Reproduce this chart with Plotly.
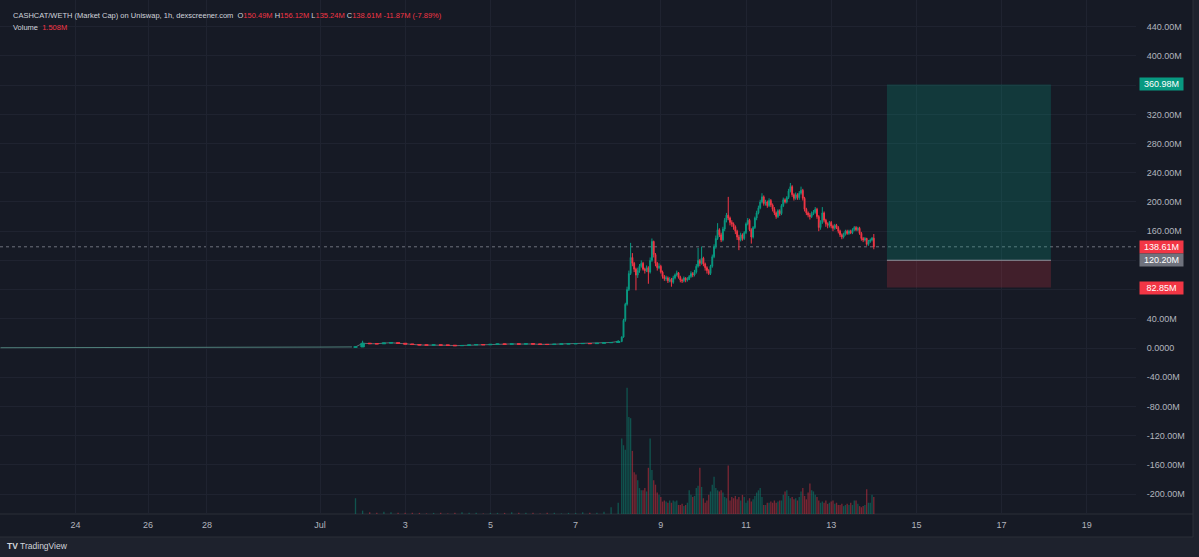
import plotly.graph_objects as go

# ---------------- data ----------------
# time axis: hours since Jul 1 00:00 (TradingView bar-index axis, compressed before Jul 1)
tick_hours = [-137.7, -96.9, -63.7, 0, 48, 96, 144, 192, 240, 288, 336, 384, 432]
tick_text = ["24", "26", "28", "Jul", "3", "5", "7", "9", "11", "13", "15", "17", "19"]

price_ticks = [-200, -160, -120, -80, -40, 0, 40, 80, 120, 160, 200, 240, 280, 320, 360, 400, 440]
price_tick_text = ["-200.00M", "-160.00M", "-120.00M", "-80.00M", "-40.00M", "0.0000", "40.00M",
                   "", "", "160.00M", "200.00M", "240.00M", "280.00M", "320.00M", "", "400.00M", "440.00M"]

# sparse early trading (market cap, M)
early_hours = [-180, -150, -120, -90, -60, -30, 0, 18]
early_mcap = [0.4, 0.4, 0.5, 0.6, 0.7, 0.9, 1.3, 1.5]

# quiet period Jul 1 20:00 -> Jul 8 00:00, 4h steps (M)
flat_start_hour = 20
flat_step = 4
flat_first_open = 1.2
flat_close = [1.5, 6.5, 6.0, 5.8, 6.8, 7.2, 6.5, 5.5, 4.8, 4.2, 4.0, 4.2, 4.0, 3.8, 3.2, 3.5, 4.2, 4.8, 4.5,
              5.0, 5.5, 5.2, 5.6, 5.4, 5.8, 5.5, 5.0, 4.8, 5.2, 5.6, 5.8, 6.0, 6.2, 6.0, 6.5, 7.3, 7.6, 9.0]
flat_high = [2.0, 10.0, 7.0, 6.6, 7.4, 7.9, 7.4, 6.6, 5.7, 5.0, 4.7, 4.8, 4.6, 4.4, 4.0, 4.0, 4.8, 5.3, 5.2,
             5.5, 6.0, 5.9, 6.1, 6.0, 6.3, 6.2, 5.8, 5.3, 5.7, 6.1, 6.3, 6.5, 6.7, 6.6, 7.0, 7.9, 8.2, 11.0]
flat_low = [1.0, 1.4, 5.4, 5.2, 5.5, 6.5, 6.0, 5.0, 4.4, 3.8, 3.6, 3.7, 3.6, 3.4, 2.8, 2.9, 3.3, 4.0, 4.1,
            4.3, 4.8, 4.8, 4.9, 5.0, 5.1, 5.0, 4.6, 4.4, 4.5, 4.9, 5.3, 5.5, 5.7, 5.6, 5.7, 6.2, 7.0, 7.3]
flat_volume = [1.4, 0.3, 0.15, 0.1, 0.2, 0.15, 0.1, 0.1, 0.1, 0.1, 0.05, 0.1, 0.1, 0.05, 0.1, 0.15, 0.1, 0.1, 0.05,
               0.1, 0.1, 0.1, 0.15, 0.1, 0.1, 0.1, 0.05, 0.1, 0.1, 0.05, 0.1, 0.1, 0.15, 0.1, 0.1, 0.2, 0.6, 1.0]

# hourly candles from Jul 8 02:00 (M)
pump_start_hour = 170
pump_close = [15, 38, 60, 80, 102, 124, 116, 108, 100, 106,
              112, 116, 108, 106, 110, 104, 120, 146, 128, 116,
              110, 112, 104, 98, 95, 96, 92, 94, 90, 96,
              100, 103, 97, 93, 92, 96, 93, 94, 98, 102,
              100, 104, 112, 120, 116, 123, 115, 110, 106, 102,
              112, 125, 139, 150, 162, 155, 148, 163, 175, 182,
              178, 172, 170, 166, 160, 152, 148, 155, 150, 158,
              170, 175, 162, 152, 165, 178, 185, 192, 200, 207,
              198, 200, 195, 202, 196, 190, 185, 180, 188, 184,
              195, 203, 200, 206, 215, 221, 210, 205, 210, 206,
              212, 216, 205, 190, 185, 182, 180, 184, 186, 190,
              180, 165, 172, 185, 175, 170, 168, 172, 167, 164,
              168, 165, 160, 155, 152, 156, 160, 157, 160, 158,
              162, 165, 162, 164, 157, 150, 148, 150, 142, 146,
              148, 150.49, 138.61]
pump_high = [16, 40, 62, 84, 106, 144, 130, 118, 110, 110,
             115, 120, 118, 110, 113, 112, 124, 150, 147, 130,
             118, 116, 114, 106, 100, 99, 98, 97, 96, 99,
             102, 106, 104, 99, 95, 98, 97, 97, 100, 105,
             104, 107, 115, 137, 122, 139, 125, 117, 112, 108,
             114, 128, 142, 154, 171, 164, 158, 166, 178, 185,
             207, 180, 175, 172, 168, 162, 155, 158, 157, 160,
             172, 178, 177, 164, 167, 180, 188, 195, 203, 212,
             209, 203, 202, 205, 204, 198, 193, 187, 190, 190,
             197, 206, 205, 208, 218, 226, 223, 212, 213, 212,
             215, 221, 218, 207, 192, 187, 185, 187, 189, 193,
             192, 182, 175, 193, 187, 177, 172, 174, 174, 169,
             170, 170, 167, 162, 157, 158, 162, 162, 162, 162,
             164, 167, 167, 166, 166, 159, 152, 152, 151, 148,
             150, 152, 156.12]
pump_low = [8, 14, 36, 58, 78, 100, 112, 104, 79, 96,
            103, 110, 106, 102, 104, 88, 102, 118, 124, 112,
            106, 108, 102, 95, 92, 92, 89, 90, 84, 88,
            94, 98, 95, 90, 89, 90, 90, 91, 93, 96,
            97, 98, 102, 110, 112, 114, 112, 106, 102, 100,
            100, 110, 123, 136, 148, 152, 145, 146, 160, 172,
            175, 168, 166, 162, 156, 148, 134, 146, 147, 148,
            156, 168, 160, 143, 150, 163, 175, 183, 190, 198,
            195, 195, 192, 193, 193, 187, 182, 177, 178, 181,
            182, 193, 198, 198, 204, 213, 207, 202, 203, 203,
            203, 210, 202, 187, 182, 179, 176, 178, 182, 184,
            177, 160, 162, 170, 172, 166, 164, 165, 164, 160,
            162, 163, 157, 152, 149, 150, 154, 155, 155, 156,
            156, 160, 160, 160, 155, 147, 145, 146, 140, 140,
            144, 146, 135.24]
pump_volume = [6.7, 6.1, 5.7, 11.2, 8.6, 8.5, 5.6, 3.7, 3.5, 3.0,
               2.3, 2.1, 2.1, 2.3, 2.0, 4.1, 6.7, 3.9, 3.0, 2.6,
               1.9, 1.7, 1.5, 1.1, 1.2, 1.1, 1.0, 1.2, 1.0, 1.2,
               1.1, 1.2, 0.8, 0.8, 0.9, 0.7, 0.8, 1.0, 2.1, 1.7,
               1.5, 1.6, 2.3, 2.5, 4.1, 2.4, 1.4, 1.0, 1.2, 1.7,
               2.0, 2.6, 3.3, 2.3, 2.1, 2.0, 2.1, 1.9, 1.5, 1.4,
               4.3, 1.2, 1.5, 1.4, 1.6, 1.3, 1.5, 1.2, 1.7, 1.5,
               1.0, 1.2, 1.4, 1.1, 1.3, 1.6, 1.9, 2.1, 2.3, 1.5,
               0.8, 0.8, 1.0, 1.0, 1.1, 1.0, 1.2, 1.0, 1.1, 1.2,
               1.2, 1.7, 2.0, 2.1, 1.6, 1.4, 1.5, 1.3, 1.4, 1.2,
               1.5, 2.0, 2.3, 1.6, 1.3, 1.9, 2.7, 2.1, 2.0, 1.7,
               1.5, 1.2, 1.0, 1.1, 1.0, 1.2, 0.9, 1.0, 1.1, 1.2,
               0.9, 1.0, 0.8, 0.8, 0.9, 0.7, 0.8, 0.9, 0.8, 1.0,
               0.8, 1.2, 1.2, 0.9, 0.7, 0.6, 0.7, 0.8, 2.2, 1.0,
               1.0, 1.7, 1.508]

# long position tool
pos_start_hour, pos_end_hour = 319.4, 411.8
pos_target, pos_entry, pos_stop = 360.98, 120.20, 82.85
last_price = 138.61

# ---------------- styling ----------------
UP, DOWN = "#089981", "#f23645"
UP_V, DOWN_V = "rgba(8,153,129,0.45)", "rgba(242,54,69,0.45)"
PANE = "#161a25"
OUTER = "#1e222d"
GRID = "#1f2330"
TXT = "#b2b5be"
FONT = "Liberation Sans"

PX_W, PX_H = 1199, 557
PLOT_R, PLOT_B = 1136, 514          # plot area right / bottom in px
AXIS_R, AXIS_B = 1193, 537          # price axis / time axis outer edge
X_RANGE = [-180.28, 459.72]
Y_RANGE = [-227.3, 476.6]
VOL_RANGE = [0, 45.6]

flat_hours = list(range(flat_start_hour, flat_start_hour + flat_step * len(flat_close), flat_step))
flat_open = [flat_first_open] + flat_close[:-1]
pump_hours = list(range(pump_start_hour, pump_start_hour + len(pump_close)))
pump_open = [flat_close[-1]] + pump_close[:-1]

fig = go.Figure()

fig.add_trace(go.Scatter(x=early_hours, y=early_mcap, mode="lines",
                         line=dict(color="#4f7f7a", width=1), hoverinfo="skip"))
fig.add_trace(go.Scatter(x=flat_hours, y=flat_close, mode="lines",
                         line=dict(color="#5f6b72", width=1), hoverinfo="skip"))
fig.add_trace(go.Candlestick(
    x=flat_hours, open=flat_open, high=flat_high, low=flat_low, close=flat_close,
    xaxis="x2",
    increasing=dict(line=dict(color=UP, width=1), fillcolor=UP),
    decreasing=dict(line=dict(color=DOWN, width=1), fillcolor=DOWN),
))
fig.add_trace(go.Candlestick(
    x=pump_hours, open=pump_open, high=pump_high, low=pump_low, close=pump_close,
    increasing=dict(line=dict(color=UP, width=1), fillcolor=UP),
    decreasing=dict(line=dict(color=DOWN, width=1), fillcolor=DOWN),
))

vol_x = flat_hours + pump_hours
vol_y = flat_volume + pump_volume
vol_c = ([UP_V if c >= o else DOWN_V for o, c in zip(flat_open, flat_close)] +
         [UP_V if c >= o else DOWN_V for o, c in zip(pump_open, pump_close)])
fig.add_trace(go.Bar(x=vol_x, y=vol_y, yaxis="y2", marker=dict(color=vol_c, line=dict(width=0)),
                     hoverinfo="skip"))

# paper-fraction helpers for the frame outside the plot area
px2fx = lambda px: px / PLOT_R
py2fy = lambda py: 1 - py / PLOT_B

shapes = [
    # dark pane + axes background
    dict(type="rect", xref="paper", yref="paper", x0=0, x1=px2fx(AXIS_R), y0=py2fy(AXIS_B), y1=1,
         fillcolor=PANE, line=dict(width=0), layer="below"),
    # time axis borders
    dict(type="line", xref="paper", yref="paper", x0=0, x1=px2fx(AXIS_R), y0=0, y1=0,
         line=dict(color="#2a2e39", width=1), layer="below"),
    dict(type="line", xref="paper", yref="paper", x0=0, x1=px2fx(AXIS_R), y0=py2fy(AXIS_B), y1=py2fy(AXIS_B),
         line=dict(color="#2a2e39", width=1), layer="below"),
    dict(type="line", xref="paper", yref="paper", x0=px2fx(AXIS_R), x1=px2fx(AXIS_R), y0=py2fy(AXIS_B), y1=1,
         line=dict(color="#2a2e39", width=1), layer="below"),
    # position tool
    dict(type="rect", xref="x", yref="y", x0=pos_start_hour, x1=pos_end_hour, y0=pos_entry, y1=pos_target,
         fillcolor="rgba(8,153,129,0.25)", line=dict(width=0), layer="between"),
    dict(type="rect", xref="x", yref="y", x0=pos_start_hour, x1=pos_end_hour, y0=pos_stop, y1=pos_entry,
         fillcolor="rgba(242,54,69,0.2)", line=dict(width=0), layer="between"),
    dict(type="line", xref="x", yref="y", x0=pos_start_hour, x1=pos_end_hour, y0=pos_entry, y1=pos_entry,
         line=dict(color="#8f929c", width=1), layer="between"),
    # last price line
    dict(type="line", xref="paper", yref="y", x0=0, x1=1, y0=last_price, y1=last_price,
         line=dict(color="#6e727c", width=1, dash="dot"), layer="between"),
]

def price_label(val, bg):
    return dict(xref="paper", yref="y", x=1, y=val, xanchor="left", yanchor="middle", xshift=3,
                text=f"{val:.2f}M", showarrow=False, bgcolor=bg, width=41, height=10, borderpad=1,
                align="center", font=dict(family=FONT, size=9, color="#ffffff"))

header = ("CASHCAT/WETH (Market Cap) on Uniswap, 1h, dexscreener.com&nbsp;&nbsp;"
          f"O<span style='color:{DOWN}'>150.49M</span>&nbsp;H<span style='color:{DOWN}'>156.12M</span>"
          f"&nbsp;L<span style='color:{DOWN}'>135.24M</span>&nbsp;C<span style='color:{DOWN}'>138.61M</span>"
          f"&nbsp;<span style='color:{DOWN}'>-11.87M (-7.89%)</span>")
volume_line = f"Volume&nbsp;&nbsp;<span style='color:{DOWN}'>1.508M</span>"

annotations = [
    dict(xref="paper", yref="paper", x=0, y=1, xanchor="left", yanchor="middle", xshift=11, yshift=-15.5,
         text=header, showarrow=False, font=dict(family=FONT, size=7.5, color="#d1d4dc")),
    dict(xref="paper", yref="paper", x=0, y=1, xanchor="left", yanchor="middle", xshift=11, yshift=-27,
         text=volume_line, showarrow=False, font=dict(family=FONT, size=7.5, color="#d1d4dc")),
    dict(xref="paper", yref="paper", x=0, y=0, xanchor="left", yanchor="middle", xshift=5, yshift=-32,
         text="<b>TV</b> TradingView", showarrow=False, font=dict(family=FONT, size=8.5, color="#d1d4dc")),
    price_label(pos_target, UP),
    price_label(last_price, DOWN),
    price_label(pos_entry, "#6f727d"),
    price_label(pos_stop, DOWN),
]

fig.update_layout(
    width=PX_W, height=PX_H,
    margin=dict(l=0, r=PX_W - PLOT_R, t=0, b=PX_H - PLOT_B, pad=0),
    paper_bgcolor=OUTER, plot_bgcolor="rgba(0,0,0,0)",
    showlegend=False, bargap=0.25,
    font=dict(family=FONT, size=9, color=TXT),
    xaxis=dict(range=X_RANGE, tickvals=tick_hours, ticktext=tick_text, showgrid=True, gridcolor=GRID,
               zeroline=False, showline=False, ticks="outside", ticklen=2, tickcolor="rgba(0,0,0,0)",
               tickfont=dict(family=FONT, size=9, color=TXT), rangeslider=dict(visible=False),
               fixedrange=True),
    xaxis2=dict(range=X_RANGE, overlaying="x", anchor="y", visible=False, rangeslider=dict(visible=False)),
    yaxis=dict(range=Y_RANGE, side="right", tickvals=price_ticks, ticktext=price_tick_text, showgrid=True,
               gridcolor=GRID, zeroline=False, showline=False, ticks="outside", ticklen=8,
               tickcolor="rgba(0,0,0,0)", tickfont=dict(family=FONT, size=9, color=TXT)),
    yaxis2=dict(range=VOL_RANGE, overlaying="y", visible=False, showgrid=False),
    shapes=shapes, annotations=annotations,
)

fig.write_html("out.html")
